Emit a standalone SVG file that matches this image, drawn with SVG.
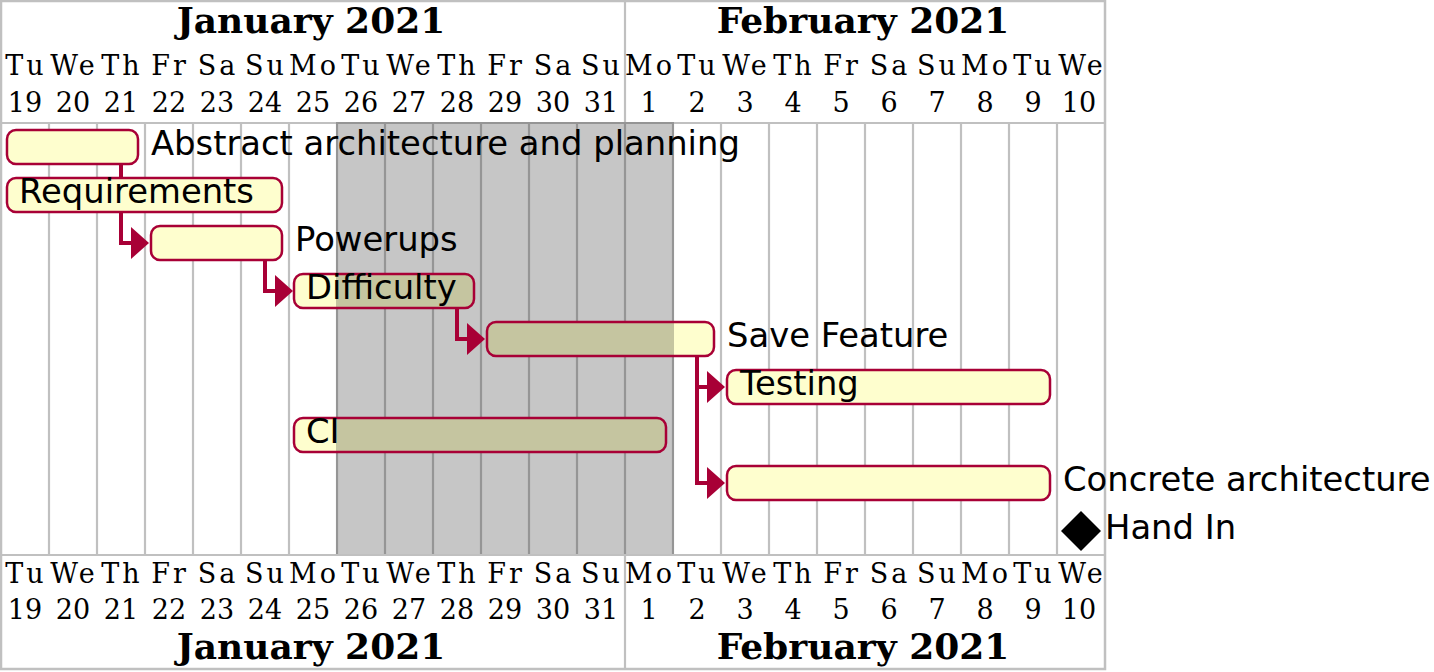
<svg xmlns="http://www.w3.org/2000/svg" width="1434" height="672" viewBox="0 0 1434 672">
  <style>
    .grid { stroke: #C0C0C0; stroke-width: 2.2; fill: none; }
    .frame { stroke: #C0C0C0; stroke-width: 2.5; fill: none; }
    .month { font-family: "DejaVu Serif", "Liberation Serif", serif; font-weight: bold; font-size: 36px; fill: #000; text-anchor: middle; }
    .day { font-family: "DejaVu Serif", "Liberation Serif", serif; font-size: 27px; fill: #000; text-anchor: middle; }
    .dname { letter-spacing: 3px; }
    .label { font-family: "DejaVu Sans", "Liberation Sans", sans-serif; font-size: 33.8px; fill: #000; }
    .barfill { fill: #FEFECE; stroke: none; }
    .barline { fill: none; stroke: #A80036; stroke-width: 2.5; }
    .shade { fill: #000; fill-opacity: 0.225; }
    .link { fill: none; stroke: #A80036; stroke-width: 4; }
    .head { fill: #A80036; }
  </style>
  <defs>
    <clipPath id="closedDays">
      <rect x="336" y="122" width="338" height="432"/>
    </clipPath>
  </defs>

  <rect x="0" y="0" width="1434" height="672" fill="#FFFFFF"/>

  <!-- calendar grid -->
  <g id="grid">
    <path class="grid" d="M49,123V555M97,123V555M145,123V555M193,123V555M241,123V555M289,123V555M337,123V555M385,123V555M433,123V555M481,123V555M529,123V555M577,123V555M625,1V669M673,123V555M721,123V555M769,123V555M817,123V555M865,123V555M913,123V555M961,123V555M1009,123V555M1057,123V555"/>
    <path class="grid" d="M1,123H1105M1,555H1105"/>
    <rect class="frame" x="1" y="1" width="1104" height="668"/>
  </g>

  <!-- closed days 26 Jan - 1 Feb -->
  <rect id="closed" class="shade" x="336" y="122" width="338" height="432"/>

  <!-- header -->
  <g id="header">
    <text class="month" x="311" y="33">January 2021</text>
    <text class="month" x="863" y="33">February 2021</text>
    <g class="day dname">
      <text x="26" y="75">Tu</text><text x="74" y="75">We</text><text x="122" y="75">Th</text><text x="170" y="75">Fr</text><text x="218" y="75">Sa</text><text x="266" y="75">Su</text><text x="314" y="75">Mo</text><text x="362" y="75">Tu</text><text x="410" y="75">We</text><text x="458" y="75">Th</text><text x="506" y="75">Fr</text><text x="554" y="75">Sa</text><text x="602" y="75">Su</text><text x="650" y="75">Mo</text><text x="698" y="75">Tu</text><text x="746" y="75">We</text><text x="794" y="75">Th</text><text x="842" y="75">Fr</text><text x="890" y="75">Sa</text><text x="938" y="75">Su</text><text x="986" y="75">Mo</text><text x="1034" y="75">Tu</text><text x="1082" y="75">We</text>
    </g>
    <g class="day">
      <text x="25" y="112">19</text><text x="73" y="112">20</text><text x="121" y="112">21</text><text x="169" y="112">22</text><text x="217" y="112">23</text><text x="265" y="112">24</text><text x="313" y="112">25</text><text x="361" y="112">26</text><text x="409" y="112">27</text><text x="457" y="112">28</text><text x="505" y="112">29</text><text x="553" y="112">30</text><text x="601" y="112">31</text><text x="649" y="112">1</text><text x="697" y="112">2</text><text x="745" y="112">3</text><text x="793" y="112">4</text><text x="841" y="112">5</text><text x="889" y="112">6</text><text x="937" y="112">7</text><text x="985" y="112">8</text><text x="1033" y="112">9</text><text x="1079" y="112">10</text>
    </g>
  </g>

  <!-- footer -->
  <g id="footer">
    <g class="day dname">
      <text x="26" y="583">Tu</text><text x="74" y="583">We</text><text x="122" y="583">Th</text><text x="170" y="583">Fr</text><text x="218" y="583">Sa</text><text x="266" y="583">Su</text><text x="314" y="583">Mo</text><text x="362" y="583">Tu</text><text x="410" y="583">We</text><text x="458" y="583">Th</text><text x="506" y="583">Fr</text><text x="554" y="583">Sa</text><text x="602" y="583">Su</text><text x="650" y="583">Mo</text><text x="698" y="583">Tu</text><text x="746" y="583">We</text><text x="794" y="583">Th</text><text x="842" y="583">Fr</text><text x="890" y="583">Sa</text><text x="938" y="583">Su</text><text x="986" y="583">Mo</text><text x="1034" y="583">Tu</text><text x="1082" y="583">We</text>
    </g>
    <g class="day">
      <text x="25" y="619">19</text><text x="73" y="619">20</text><text x="121" y="619">21</text><text x="169" y="619">22</text><text x="217" y="619">23</text><text x="265" y="619">24</text><text x="313" y="619">25</text><text x="361" y="619">26</text><text x="409" y="619">27</text><text x="457" y="619">28</text><text x="505" y="619">29</text><text x="553" y="619">30</text><text x="601" y="619">31</text><text x="649" y="619">1</text><text x="697" y="619">2</text><text x="745" y="619">3</text><text x="793" y="619">4</text><text x="841" y="619">5</text><text x="889" y="619">6</text><text x="937" y="619">7</text><text x="985" y="619">8</text><text x="1033" y="619">9</text><text x="1079" y="619">10</text>
    </g>
    <text class="month" x="311" y="659">January 2021</text>
    <text class="month" x="863" y="659">February 2021</text>
  </g>

  <!-- dependencies -->
  <g id="connectors">
    <path class="link" d="M121,165V243H134"/>
    <polygon class="head" points="131,227 149,243 131,259"/>
    <path class="link" d="M265,261V291H278"/>
    <polygon class="head" points="275,275 293,291 275,307"/>
    <path class="link" d="M457,309V339H470"/>
    <polygon class="head" points="467,323 485,339 467,355"/>
    <path class="link" d="M697,357V483H710M697,387H710"/>
    <polygon class="head" points="707,371 725,387 707,403"/>
    <polygon class="head" points="707,467 725,483 707,499"/>
  </g>

  <!-- tasks -->
  <g id="task-abstract">
    <rect class="barfill" x="7" y="130" width="131" height="34" rx="9"/>
    <rect class="barline" x="7" y="130" width="131" height="34" rx="9"/>
    <text class="label" x="151" y="155">Abstract architecture and planning</text>
  </g>
  <g id="task-requirements">
    <rect class="barfill" x="7" y="178" width="275" height="34" rx="9"/>
    <rect class="barline" x="7" y="178" width="275" height="34" rx="9"/>
    <text class="label" x="19" y="203">Requirements</text>
  </g>
  <g id="task-powerups">
    <rect class="barfill" x="151" y="226" width="131" height="34" rx="9"/>
    <rect class="barline" x="151" y="226" width="131" height="34" rx="9"/>
    <text class="label" x="295" y="251">Powerups</text>
  </g>
  <g id="task-difficulty">
    <rect class="barfill" x="294" y="274" width="180" height="34" rx="9"/>
    <rect class="shade" x="294" y="274" width="180" height="34" rx="9" clip-path="url(#closedDays)"/>
    <rect class="barline" x="294" y="274" width="180" height="34" rx="9"/>
    <text class="label" x="306" y="299">Difficulty</text>
  </g>
  <g id="task-save-feature">
    <rect class="barfill" x="487" y="322" width="227" height="34" rx="9"/>
    <rect class="shade" x="487" y="322" width="227" height="34" rx="9" clip-path="url(#closedDays)"/>
    <rect class="barline" x="487" y="322" width="227" height="34" rx="9"/>
    <text class="label" x="727" y="347">Save Feature</text>
  </g>
  <g id="task-testing">
    <rect class="barfill" x="727" y="370" width="323" height="34" rx="9"/>
    <rect class="barline" x="727" y="370" width="323" height="34" rx="9"/>
    <text class="label" x="740" y="395">Testing</text>
  </g>
  <g id="task-ci">
    <rect class="barfill" x="294" y="418" width="372" height="34" rx="9"/>
    <rect class="shade" x="294" y="418" width="372" height="34" rx="9" clip-path="url(#closedDays)"/>
    <rect class="barline" x="294" y="418" width="372" height="34" rx="9"/>
    <text class="label" x="306" y="443">CI</text>
  </g>
  <g id="task-concrete">
    <rect class="barfill" x="727" y="466" width="323" height="34" rx="9"/>
    <rect class="barline" x="727" y="466" width="323" height="34" rx="9"/>
    <text class="label" x="1063" y="491">Concrete architecture</text>
  </g>
  <g id="milestone-hand-in">
    <polygon points="1061,531 1081,511 1101,531 1081,551" fill="#000"/>
    <text class="label" x="1105" y="539">Hand In</text>
  </g>
</svg>
